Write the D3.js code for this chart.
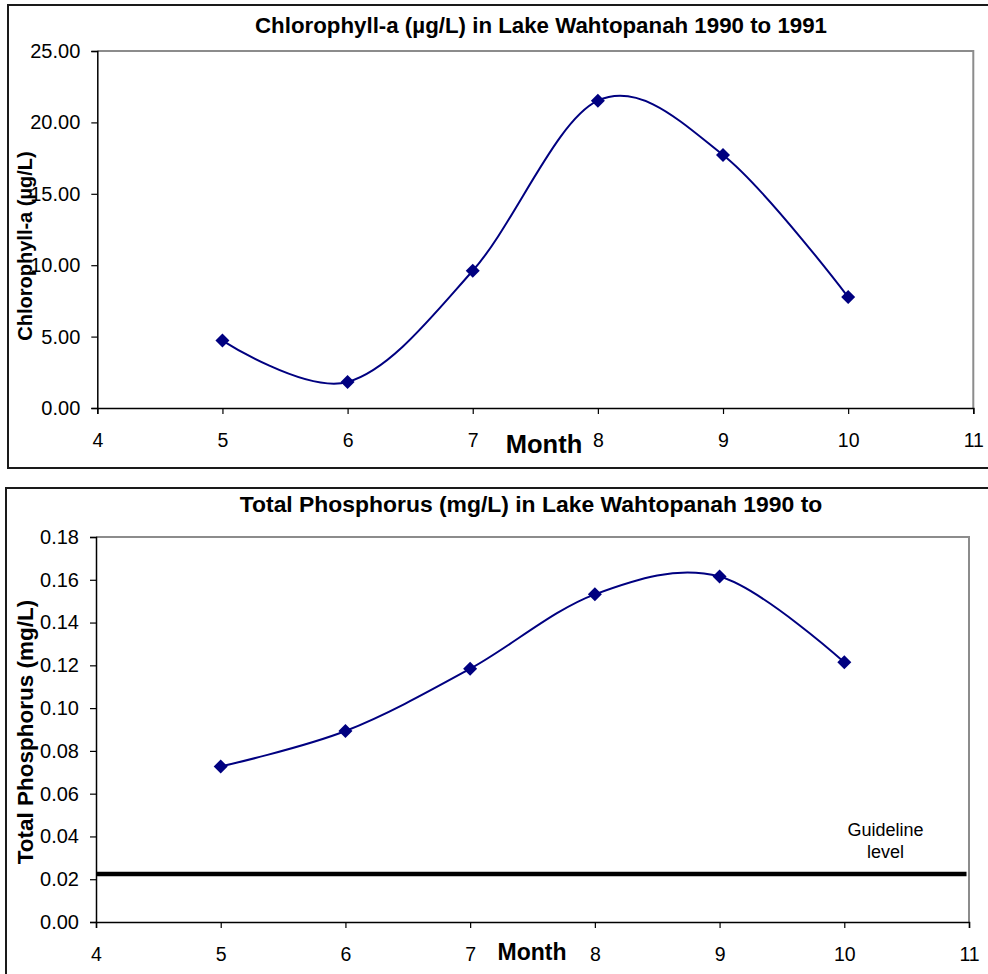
<!DOCTYPE html>
<html>
<head>
<meta charset="utf-8">
<script src="https://cdn.jsdelivr.net/npm/d3@7"></script>
<style>
  html, body { margin: 0; padding: 0; background: #fff; }
  svg { display: block; }
  text { font-family: "Liberation Sans", Arial, sans-serif; fill: #000; }
</style>
</head>
<body>
<div id="chart"></div>
<script>
// ---- data ----
const months = [5, 6, 7, 8, 9, 10];
const chlorophyll = [4.72, 1.82, 9.61, 21.52, 17.72, 7.77];
const phosphorus = [0.0727, 0.0893, 0.1184, 0.1532, 0.1615, 0.1214];
const guidelineLevel = 0.0225;
const xTicks = [4, 5, 6, 7, 8, 9, 10, 11];
const chlTicks = [0, 5, 10, 15, 20, 25];
const tpTicks = [0, 0.02, 0.04, 0.06, 0.08, 0.10, 0.12, 0.14, 0.16, 0.18];
const chlTitle = "Chlorophyll-a (\u00b5g/L) in Lake Wahtopanah 1990 to 1991";
const tpTitle = "Total Phosphorus (mg/L) in Lake Wahtopanah 1990 to";
const chlYLabel = "Chlorophyll-a (\u00b5g/L)";
const tpYLabel = "Total Phosphorus (mg/L)";
const xLabel = "Month";
const guidelineText = ["Guideline", "level"];

const W = 988, H = 974;
const svg = d3.select("#chart").append("svg").attr("width", W).attr("height", H);

const navy = "#000080";

function panel(cfg) {
  // outer chart-area border
  svg.append("rect")
    .attr("x", cfg.box[0]).attr("y", cfg.box[1])
    .attr("width", cfg.box[2]).attr("height", cfg.box[3])
    .attr("fill", "#fff").attr("stroke", "#1a1a1a").attr("stroke-width", 2);

  const x = d3.scaleLinear().domain([4, 11]).range([cfg.plot.left, cfg.plot.right]);
  const y = d3.scaleLinear().domain(cfg.yDomain).range([cfg.plot.bottom, cfg.plot.top]);

  // plot area border (gray top/right)
  svg.append("path")
    .attr("d", `M${x(4)},${y(cfg.yDomain[1])}H${x(11)}V${y(cfg.yDomain[0])}`)
    .attr("fill", "none").attr("stroke", "#8c8c8c").attr("stroke-width", 2);

  // axes
  const gx = svg.append("g").attr("transform", `translate(0,${y(cfg.yDomain[0])})`)
    .call(d3.axisBottom(x).tickValues(xTicks).tickSize(6).tickPadding(cfg.xPad).tickFormat(d3.format("d")));
  const gy = svg.append("g").attr("transform", `translate(${x(4)},0)`)
    .call(d3.axisLeft(y).tickValues(cfg.yTicks).tickSize(6).tickPadding(11).tickFormat(d3.format(cfg.yFmt)));
  [gx, gy].forEach(g => {
    g.attr("font-family", null).attr("font-size", null);
    g.select(".domain").attr("stroke", "#000").attr("stroke-width", 1.5);
    g.selectAll(".tick line").attr("stroke", "#000").attr("stroke-width", 1.2);
    g.selectAll(".tick text").style("font-family", "'Liberation Sans', Arial, sans-serif").attr("fill", "#000");
  });
  gx.selectAll(".tick text").style("font-size", cfg.xTickSize + "px");
  gy.selectAll(".tick text").style("font-size", cfg.yTickSize + "px");

  // guideline
  if (cfg.guide !== undefined) {
    svg.append("line")
      .attr("x1", x(4)).attr("x2", x(10.98))
      .attr("y1", y(cfg.guide)).attr("y2", y(cfg.guide))
      .attr("stroke", "#000").attr("stroke-width", 4.5);
    const gt = svg.append("text").attr("text-anchor", "middle").style("font-size", "18px")
      .attr("x", x(10.33)).attr("y", y(cfg.guide) - 38);
    guidelineText.forEach((t, i) => gt.append("tspan").attr("x", x(10.33)).attr("dy", i ? 22 : 0).text(t));
  }

  // smoothed line (Excel-style smoothing ~ uniform Catmull-Rom)
  const pts = months.map((m, i) => [m, cfg.values[i]]);
  svg.append("path")
    .datum(pts)
    .attr("d", d3.line().x(d => x(d[0])).y(d => y(d[1])).curve(d3.curveCatmullRom.alpha(0)))
    .attr("fill", "none").attr("stroke", navy).attr("stroke-width", 2);

  svg.append("g").selectAll("path").data(pts).join("path")
    .attr("transform", d => `translate(${x(d[0])},${y(d[1])})`)
    .attr("d", "M0,-7L7,0L0,7L-7,0Z")
    .attr("fill", navy);

  // title
  svg.append("text").attr("x", cfg.titlePos[0]).attr("y", cfg.titlePos[1])
    .attr("text-anchor", "middle").attr("font-weight", "bold").style("font-size", cfg.titleSize + "px")
    .text(cfg.title);
  // y label
  svg.append("text")
    .attr("transform", `translate(${cfg.yLabelPos[0]},${cfg.yLabelPos[1]}) rotate(-90)`)
    .attr("text-anchor", "middle").attr("font-weight", "bold").style("font-size", cfg.yLabelSize + "px")
    .text(cfg.yLabel);
  // x label
  svg.append("text").attr("x", cfg.xLabelPos[0]).attr("y", cfg.xLabelPos[1])
    .attr("text-anchor", "middle").attr("font-weight", "bold").style("font-size", cfg.xLabelSize + "px")
    .text(xLabel);
}

panel({
  box: [8, 5, 1000, 463],
  plot: { left: 97.3, right: 973.3, top: 51, bottom: 408 },
  yDomain: [0, 25], yTicks: chlTicks, yFmt: ".2f",
  values: chlorophyll,
  xPad: 19, xTickSize: 19.5, yTickSize: 20,
  title: chlTitle, titlePos: [541, 33], titleSize: 22.3,
  yLabel: chlYLabel, yLabelPos: [32, 246], yLabelSize: 20,
  xLabelPos: [544, 453], xLabelSize: 25.5
});

panel({
  box: [6, 488, 1000, 500],
  plot: { left: 96, right: 969, top: 537, bottom: 922 },
  yDomain: [0, 0.18], yTicks: tpTicks, yFmt: ".2f",
  values: phosphorus, guide: guidelineLevel,
  xPad: 19, xTickSize: 19.5, yTickSize: 20,
  title: tpTitle, titlePos: [531, 512], titleSize: 22.9,
  yLabel: tpYLabel, yLabelPos: [33, 732], yLabelSize: 22.5,
  xLabelPos: [532, 960], xLabelSize: 23
});
</script>
</body>
</html>
